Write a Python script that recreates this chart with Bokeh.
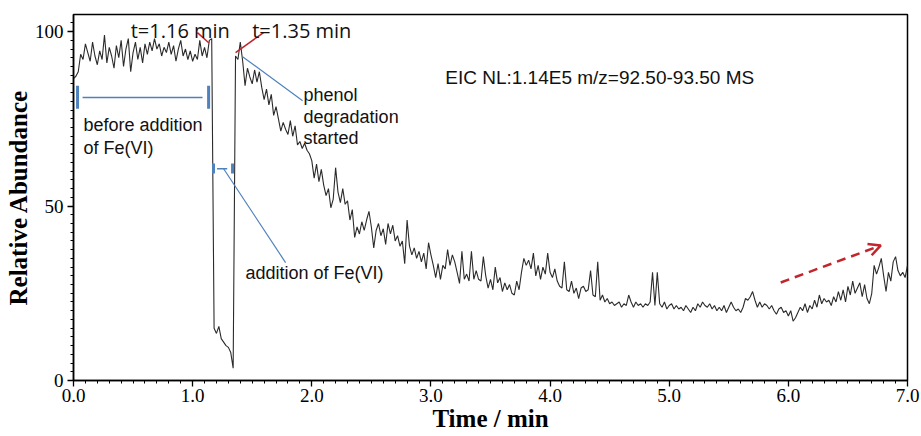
import numpy as np
from bokeh.plotting import figure
from bokeh.models import FixedTicker, NumeralTickFormatter, Label, Arrow, OpenHead, Range1d, ColumnDataSource
from bokeh.embed import file_html
from bokeh.resources import INLINE

# ---- data ----
time_step_min = 0.02
abundance = [
    86.5, 87.2, 88.5, 93.5, 92.0, 96.5, 94.0, 91.5, 97.0, 93.0,   # 0.00
    90.5, 94.5, 92.0, 99.0, 91.0, 95.5, 93.0, 89.5, 96.0, 92.5,   # 0.20
    97.5, 90.0, 95.0, 98.0, 88.5, 94.0, 97.0, 92.0, 95.5, 91.0,   # 0.40
    96.5, 93.5, 97.0, 94.5, 98.0, 95.0, 96.5, 93.0, 95.5, 94.0,   # 0.60
    97.0, 93.5, 96.0, 91.5, 95.0, 97.5, 93.0, 95.0, 92.0, 94.5,   # 0.80
    91.5, 93.5, 92.0, 97.5, 93.0, 95.5, 92.5, 97.5, 98.0, 15.0,   # 1.00
    13.5, 15.5, 12.0, 11.0, 10.0, 9.5, 8.0, 3.5, 93.0, 92.0,      # 1.20
    97.0, 91.5, 84.5, 89.5, 87.0, 85.0, 89.0, 85.5, 88.5, 84.0,   # 1.40
    80.5, 83.5, 79.0, 82.0, 76.0, 78.5, 75.0, 71.5, 74.0, 72.0,   # 1.60
    70.5, 74.5, 70.0, 73.0, 67.5, 68.5, 66.5, 68.0, 66.0, 65.0,   # 1.80
    63.0, 58.0, 62.0, 57.0, 60.5, 56.0, 53.0, 55.0, 49.5, 52.0,   # 2.00
    61.0, 54.0, 51.0, 55.0, 50.5, 51.5, 46.0, 49.0, 41.0, 44.0,   # 2.20
    42.0, 45.5, 43.0, 46.0, 48.5, 44.0, 38.0, 43.0, 45.0, 41.5,   # 2.40
    43.5, 39.0, 45.0, 42.0, 44.5, 40.0, 41.5, 38.5, 40.0, 33.5,   # 2.60
    46.0, 38.5, 36.0, 38.0, 35.0, 37.0, 34.0, 36.5, 32.0, 39.5,   # 2.80
    36.0, 33.0, 29.5, 33.5, 29.0, 33.0, 32.0, 37.5, 33.0, 36.0,   # 3.00
    34.0, 31.0, 27.8, 37.0, 29.0, 30.5, 28.5, 37.0, 29.0, 31.5,   # 3.20
    29.0, 28.5, 35.5, 30.0, 26.5, 29.0, 26.0, 32.5, 28.0, 29.5,   # 3.40
    25.5, 28.0, 26.0, 27.5, 25.0, 24.5, 28.5, 26.0, 31.0, 35.0,   # 3.60
    33.0, 34.5, 32.0, 36.5, 30.0, 33.0, 29.0, 32.5, 30.5, 36.5,   # 3.80
    31.0, 29.5, 32.0, 28.5, 27.0, 26.5, 34.0, 26.0, 25.5, 28.5,   # 4.00
    25.0, 26.5, 23.5, 26.5, 27.0, 25.5, 26.0, 31.5, 24.5, 24.0,   # 4.20
    34.0, 23.0, 24.5, 22.5, 23.5, 22.0, 22.5, 21.5, 22.0, 22.5,   # 4.40
    21.0, 22.0, 21.5, 24.5, 22.5, 21.0, 22.5, 21.5, 22.0, 21.0,   # 4.60
    22.0, 21.5, 22.5, 31.0, 21.5, 31.0, 22.0, 21.0, 22.5, 20.5,   # 4.80
    21.5, 22.0, 20.5, 21.5, 20.5, 21.0, 20.0, 21.5, 20.5, 19.5,   # 5.00
    21.0, 20.0, 22.0, 21.0, 22.5, 21.5, 21.0, 22.0, 20.5, 21.5,   # 5.20
    20.0, 21.0, 20.0, 21.5, 19.5, 21.0, 22.5, 21.0, 20.0, 20.5,   # 5.40
    19.5, 21.0, 23.5, 23.0, 24.0, 25.5, 23.0, 21.0, 22.5, 21.0,   # 5.60
    22.0, 21.5, 20.5, 21.5, 20.0, 19.0, 20.5, 21.0, 19.5, 20.0,   # 5.80
    18.5, 20.0, 17.0, 18.0, 19.5, 21.0, 20.0, 22.0, 19.5, 21.5,   # 6.00
    20.5, 23.0, 21.0, 24.5, 22.0, 23.5, 22.5, 23.0, 21.5, 24.0,   # 6.20
    22.5, 25.5, 23.0, 26.0, 22.5, 27.0, 24.5, 28.5, 25.0, 26.5,   # 6.40
    28.0, 24.0, 27.5, 23.5, 22.0, 25.0, 33.0, 30.5, 32.5, 35.0,   # 6.60
    30.0, 25.5, 31.0, 28.5, 34.0, 35.5, 31.5, 30.0, 31.0, 29.5,   # 6.80
    33.0,                                                        # 7.00
]
time_min = [round(i * time_step_min, 2) for i in range(len(abundance))]

x_major_ticks = [0, 1, 2, 3, 4, 5, 6, 7]
y_major_ticks = [0, 50, 100]

# ---- figure ----
p = figure(width=921, height=436,
           x_range=Range1d(0, 7), y_range=Range1d(0, 104.9),
           output_backend="svg", toolbar_location=None,
           min_border_left=73, min_border_right=14, min_border_top=14, min_border_bottom=56,
           background_fill_color="white", border_fill_color="white")
p.grid.visible = False
p.outline_line_color = "black"
p.outline_line_width = 1.5

src = ColumnDataSource(dict(t=time_min, a=abundance))
p.line("t", "a", source=src, line_color="#2b2b2b", line_width=1.1)

SERIF = "Liberation Serif"
SANS = "Liberation Sans"

p.xaxis.ticker = FixedTicker(ticks=x_major_ticks,
                             minor_ticks=[round(i * 0.1, 1) for i in range(71)])
p.yaxis.ticker = FixedTicker(ticks=y_major_ticks,
                             minor_ticks=[i * 2.5 for i in range(42)])
p.xaxis.formatter = NumeralTickFormatter(format="0.0")
for ax in (p.xaxis, p.yaxis):
    ax.axis_line_color = "black"
    ax.axis_line_width = 1.5
    ax.major_tick_line_color = "black"
    ax.minor_tick_line_color = "black"
    ax.major_tick_line_width = 1.3
    ax.minor_tick_line_width = 1.0
    ax.major_tick_in = 0
    ax.major_tick_out = 6
    ax.minor_tick_in = 0
    ax.minor_tick_out = 3
    ax.major_label_text_font = SERIF
    ax.major_label_text_font_size = "19px"
    ax.major_label_text_color = "black"
    ax.axis_label_text_font = SERIF
    ax.axis_label_text_font_size = "25px"
    ax.axis_label_text_font_style = "bold"
    ax.axis_label_text_color = "black"
    ax.axis_label_standoff = 0
p.xaxis.major_label_standoff = 2
p.yaxis.major_label_standoff = 4
p.xaxis.axis_label = "Time / min"
p.yaxis.axis_label = "Relative Abundance"

RED = "#c0262b"
BLUE = "#4f81bd"

def lab(x, y, text, size="18px", font=SANS, color="#111111"):
    p.add_layout(Label(x=x, y=y, text=text, text_font=font, text_font_size=size,
                       text_color=color, text_baseline="alphabetic", text_align="left"))

# time labels
lab(0.48, 100.2, "t=1.16 min", size="20px", font="Open Sans")
lab(1.50, 100.2, "t=1.35 min", size="20px", font="Open Sans")
p.segment(x0=[1.04, 1.595], y0=[99.7, 99.7], x1=[1.135, 1.36], y1=[96.8, 94.0],
          line_color=RED, line_width=1.5)

# EIC header
lab(3.12, 86.8, "EIC NL:1.14E5 m/z=92.50-93.50 MS", size="19px")

# before-addition bracket
p.segment(x0=[0.034, 1.134, 0.076], y0=[77.9, 77.9, 81.1],
          x1=[0.034, 1.134, 1.083], y1=[84.5, 84.5, 81.1],
          line_color=BLUE, line_width=[3, 3, 1.5])
lab(0.084, 73.1, "before addition")
lab(0.084, 66.5, "of Fe(VI)")

# addition bracket
p.segment(x0=[1.175, 1.335, 1.205], y0=[59.3, 59.3, 60.7],
          x1=[1.175, 1.335, 1.29], y1=[62.2, 62.2, 60.7],
          line_color=BLUE, line_width=[3, 3, 1.5])
p.segment(x0=[1.26], y0=[60.7], x1=[1.78], y1=[33.8], line_color=BLUE, line_width=1.2)
lab(1.444, 30.7, "addition of Fe(VI)")

# phenol degradation
p.segment(x0=[1.419], y0=[92.8], x1=[1.923], y1=[80.2], line_color=BLUE, line_width=1.2)
lab(1.931, 81.7, "phenol")
lab(1.931, 75.6, "degradation")
lab(1.931, 69.6, "started")

# dashed trend arrow
p.add_layout(Arrow(end=OpenHead(size=12, line_color=RED, line_width=2.5),
                   x_start=5.936, y_start=28.1, x_end=6.776, y_end=38.7,
                   line_color=RED, line_width=2.5, line_dash="9 6"))

open("out.html", "w").write(file_html(p, INLINE))
